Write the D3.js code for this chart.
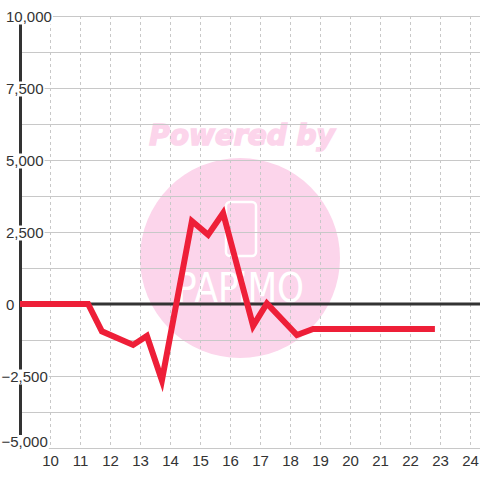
<!DOCTYPE html>
<html>
<head>
<meta charset="utf-8">
<script src="https://cdn.jsdelivr.net/npm/d3@7"></script>
<style>
  html, body { margin: 0; padding: 0; background: #fff; }
  svg { display: block; }
</style>
</head>
<body>
<script>
// data
var hours = [9, 11.27, 11.73, 12.77, 13.23, 13.73, 14.73, 15.27, 15.77, 16.77, 17.23, 18.23, 18.77, 22.83];
var amounts = [0, 0, -950, -1420, -1110, -2650, 2880, 2400, 3160, -760, 20, -1080, -870, -870];
var xTicks = [10, 11, 12, 13, 14, 15, 16, 17, 18, 19, 20, 21, 22, 23, 24];
var yTicks = [-5000, -2500, 0, 2500, 5000, 7500, 10000];
var yGrid = [-5000, -3750, -2500, -1250, 0, 1250, 2500, 3750, 5000, 6250, 7500, 8750, 10000];

var width = 480, height = 480;
var margin = { top: 16, right: 0, bottom: 32, left: 20 };

var x = d3.scaleLinear()
    .domain([9, 9 + (width - margin.left) / 30])
    .range([margin.left, width - margin.right]);

var y = d3.scaleLinear()
    .domain([-5000, 10000])
    .range([height - margin.bottom, margin.top]);

var svg = d3.select("body").append("svg")
    .attr("width", width)
    .attr("height", height);

// watermark, sits behind the grid
var wm = svg.append("g").attr("class", "watermark");
wm.append("circle")
    .attr("cx", 240).attr("cy", 258).attr("r", 100)
    .attr("fill", "#fcd5eb");
wm.append("text")
    .attr("x", 242).attr("y", 145)
    .attr("text-anchor", "middle")
    .style("font-family", "DejaVu Sans")
    .style("font-weight", "bold")
    .style("font-style", "italic")
    .style("font-size", "28px")
    .attr("fill", "#fcd5eb")
    .attr("stroke", "#fcd5eb")
    .attr("stroke-width", 1.6)
    .text("Powered by");
wm.append("rect")
    .attr("x", 226).attr("y", 202).attr("width", 30).attr("height", 54).attr("rx", 4)
    .attr("fill", "none").attr("stroke", "#fff").attr("stroke-width", 2.5);
wm.append("text")
    .attr("x", 176).attr("y", 302)
    .attr("textLength", 128)
    .attr("lengthAdjust", "spacingAndGlyphs")
    .style("font-family", "DejaVu Sans")
    .style("font-weight", "normal")
    .style("font-size", "40px")
    .attr("fill", "#fff")
    .text("PAPiMO");

// horizontal grid
svg.append("g")
    .selectAll("line")
    .data(yGrid)
    .enter().append("line")
    .attr("x1", margin.left).attr("x2", width)
    .attr("y1", function (d) { return y(d); })
    .attr("y2", function (d) { return y(d); })
    .attr("stroke", "#c8c8c8")
    .attr("stroke-width", 1)
    .attr("shape-rendering", "crispEdges");

// vertical dashed grid
svg.append("g")
    .selectAll("line")
    .data(xTicks)
    .enter().append("line")
    .attr("x1", function (d) { return Math.round(x(d)) + 0.5; })
    .attr("x2", function (d) { return Math.round(x(d)) + 0.5; })
    .attr("y1", y(10000)).attr("y2", y(-5000))
    .attr("stroke", "#c8c8c8")
    .attr("stroke-dasharray", "3,3")
    .attr("stroke-width", 1);

// zero line + left axis
svg.append("line")
    .attr("x1", margin.left).attr("x2", width)
    .attr("y1", y(0)).attr("y2", y(0))
    .attr("stroke", "#333")
    .attr("stroke-width", 3);

svg.append("line")
    .attr("x1", x(9) + 0.5).attr("x2", x(9) + 0.5)
    .attr("y1", y(10000)).attr("y2", y(-5000))
    .attr("stroke", "#333")
    .attr("stroke-width", 3);

// the series
var series = hours.map(function (h, i) { return { hour: h, amount: amounts[i] }; });

var line = d3.line()
    .x(function (d) { return x(d.hour); })
    .y(function (d) { return y(d.amount); });

svg.append("path")
    .datum(series)
    .attr("d", line)
    .attr("fill", "none")
    .attr("stroke", "#ee1f38")
    .attr("stroke-width", 6)
    .attr("stroke-linejoin", "miter");

// y labels on white boxes
var yLab = svg.append("g")
    .selectAll("g")
    .data(yTicks)
    .enter().append("g");

yLab.append("text")
    .attr("x", function (d) { return d < 0 ? 1.5 : 6; })
    .attr("y", function (d) { return Math.min(y(d) + 5.5, 447); })
    .style("font-family", "Liberation Sans, Arial, sans-serif")
    .style("font-size", "15px")
    .attr("fill", "#333")
    .text(function (d) { return d3.format(",")(d); });

yLab.each(function () {
    var g = d3.select(this);
    var b = g.select("text").node().getBBox();
    g.insert("rect", "text")
        .attr("x", b.x - 1).attr("y", b.y + 2)
        .attr("width", b.width + 2).attr("height", b.height - 2)
        .attr("fill", "#fff");
});

// x labels
svg.append("g")
    .selectAll("text")
    .data(xTicks)
    .enter().append("text")
    .attr("x", function (d) { return x(d) + 0.5; })
    .attr("y", 466)
    .attr("text-anchor", "middle")
    .style("font-family", "Liberation Sans, Arial, sans-serif")
    .style("font-size", "15px")
    .attr("fill", "#333")
    .text(function (d) { return d; });
</script>
</body>
</html>
